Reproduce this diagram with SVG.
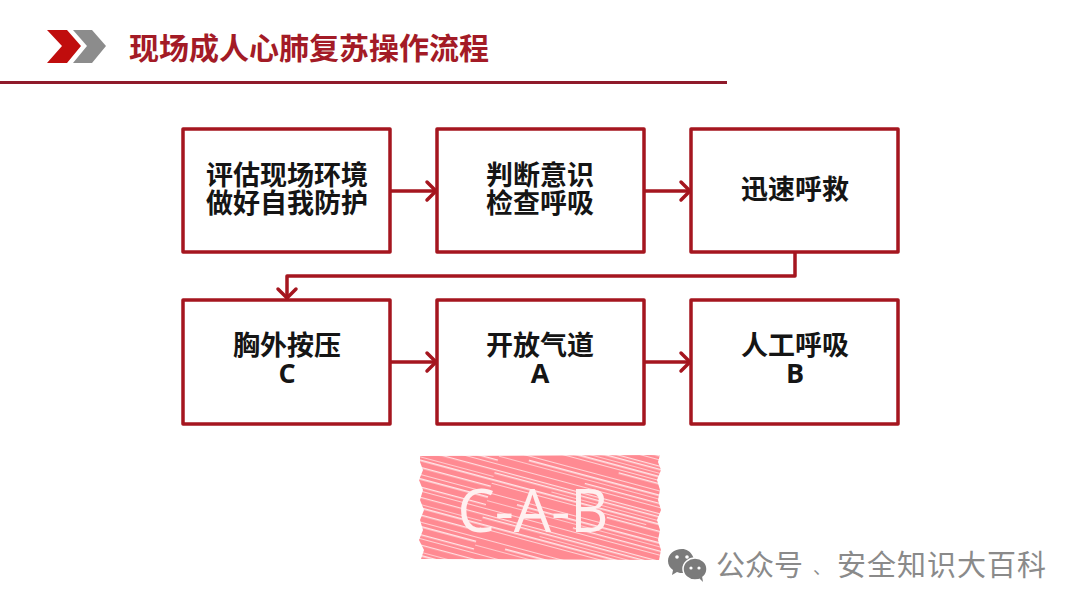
<svg xmlns="http://www.w3.org/2000/svg" width="1080" height="608" viewBox="0 0 1080 608">
<style>
.box{fill:#fff;stroke:#a5161f;stroke-width:3.5;stroke-linejoin:round}
.conn{fill:none;stroke:#a5161f;stroke-width:3.5;stroke-linecap:round;stroke-linejoin:round}
.lbl{font:bold 27px "Liberation Sans","Noto Sans CJK SC",sans-serif;fill:#151515;text-anchor:middle}
.latin{font:bold 27px "Open Sans","Liberation Sans",sans-serif;fill:#151515;text-anchor:middle}
.wm{font:29px "Noto Sans CJK SC",sans-serif;fill:#8a8a8a}
</style>
<defs>
<pattern id="hatch" width="300" height="46" patternUnits="userSpaceOnUse" patternTransform="rotate(15)">
<rect width="300" height="46" fill="#ff8a92"/>
<rect y="3" width="300" height="1.2" fill="#ffdfe1"/>
<rect y="6" width="220" height="1.4" fill="#ffe6e8"/>
<rect x="60" y="10" width="240" height="1" fill="#ffc9cd"/>
<rect y="13" width="300" height="1.6" fill="#ffe6e8"/>
<rect y="17" width="160" height="1" fill="#ffd3d6"/>
<rect x="120" y="20" width="180" height="1.4" fill="#ffe6e8"/>
<rect y="27" width="300" height="1" fill="#ffd3d6"/>
<rect x="30" y="31" width="270" height="1.6" fill="#ffe6e8"/>
<rect y="35" width="180" height="1" fill="#ffc9cd"/>
<rect x="90" y="39" width="210" height="1.3" fill="#ffe6e8"/>
<rect y="43" width="300" height="1" fill="#ffd3d6"/>
</pattern>
<clipPath id="rough">
<path d="M420,456L660,455L658,462L661,470L657,480L660,490L658,500L661,510L657,520L660,530L658,540L661,550L659,560L421,559L424,550L419,540L423,530L420,520L424,510L420,500L423,490L419,480L423,470L420,462Z"/>
</clipPath>
<g id="ah"><path class="conn" d="M-9,-9 L0,0 L-9,9"/></g>
</defs>
<rect width="1080" height="608" fill="#fff"/>

<g id="header">
<polygon points="47,30 67,30 81,46 67,63 47,63 62,46" fill="#c00d0d"/>
<polygon points="73,30 92,30 106,46 92,63 73,63 87,46" fill="#8c8c8c"/>
<text x="129" y="59" font-family="'Noto Sans CJK SC',sans-serif" font-size="30" font-weight="700" fill="#a31b26">现场成人心肺复苏操作流程</text>
<rect x="0" y="81" width="727" height="3" fill="#8f1a2a"/>
</g>

<g id="connectors">
<path class="conn" d="M390,191H435"/><use href="#ah" x="436" y="191"/>
<path class="conn" d="M644,191H689"/><use href="#ah" x="690" y="191"/>
<path class="conn" d="M795,253V276H287V298"/><path class="conn" d="M278,289L287,298L296,289"/>
<path class="conn" d="M390,362H435"/><use href="#ah" x="436" y="362"/>
<path class="conn" d="M644,362H689"/><use href="#ah" x="690" y="362"/>
</g>

<g id="n1"><rect class="box" x="183" y="129" width="207" height="123"/>
<text class="lbl" x="287" y="185">评估现场环境</text><text class="lbl" x="287" y="213">做好自我防护</text></g>
<g id="n2"><rect class="box" x="437" y="129" width="207" height="123"/>
<text class="lbl" x="540" y="185">判断意识</text><text class="lbl" x="540" y="213">检查呼吸</text></g>
<g id="n3"><rect class="box" x="691" y="129" width="207" height="123"/>
<text class="lbl" x="795" y="199">迅速呼救</text></g>
<g id="n4"><rect class="box" x="183" y="300" width="207" height="124"/>
<text class="lbl" x="287" y="355">胸外按压</text><text class="latin" x="287" y="383">C</text></g>
<g id="n5"><rect class="box" x="437" y="300" width="207" height="124"/>
<text class="lbl" x="540" y="355">开放气道</text><text class="latin" x="540" y="383">A</text></g>
<g id="n6"><rect class="box" x="691" y="300" width="207" height="124"/>
<text class="lbl" x="795" y="355">人工呼吸</text><text class="latin" x="795" y="383">B</text></g>

<g id="stamp">
<rect x="418" y="454" width="244" height="107" fill="url(#hatch)" clip-path="url(#rough)"/>
<text x="533" y="532" text-anchor="middle" font-family="'Open Sans','Liberation Sans',sans-serif" font-size="60" fill="#fff0f0" textLength="151" lengthAdjust="spacingAndGlyphs">C-A-B</text>
</g>

<g id="watermark">
<path d="M682,549c-8,0-14,5-14,12c0,4,2,7,5,9l-1,5l5,-3c2,1,4,1,6,1c5,0,9-3,11-6c2-8-3-18-12-18z" fill="#7b7b7b"/>
<ellipse cx="695" cy="569" rx="12" ry="11" fill="#7b7b7b" stroke="#fff" stroke-width="1.5"/>
<path d="M699,578l4,4l-1,-6z" fill="#7b7b7b"/>
<circle cx="677" cy="557" r="1.8" fill="#fff"/><circle cx="687" cy="557" r="1.8" fill="#fff"/>
<circle cx="691" cy="568" r="1.6" fill="#fff"/><circle cx="699" cy="568" r="1.6" fill="#fff"/>
<text class="wm" x="716" y="576">公众号</text>
<text class="wm" x="813" y="574" style="font-size:18px">、</text>
<text class="wm" x="837" y="576" textLength="209">安全知识大百科</text>
</g>
</svg>
